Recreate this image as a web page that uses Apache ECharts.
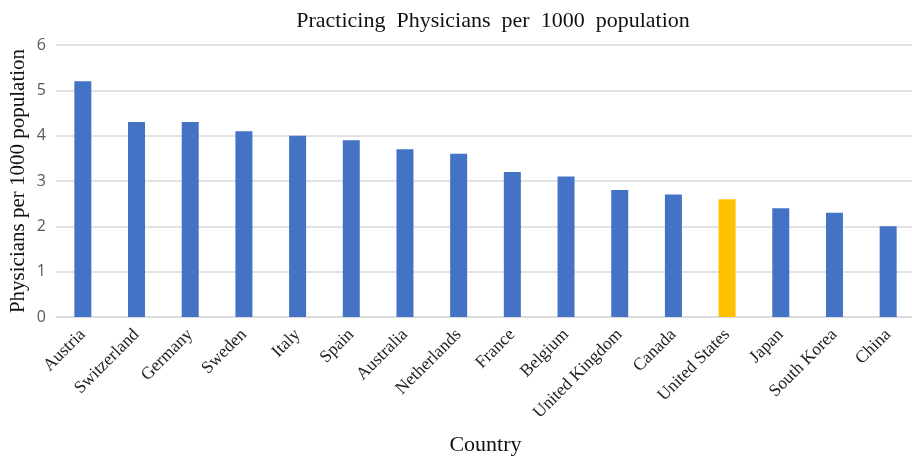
<!DOCTYPE html>
<html>
<head>
<meta charset="utf-8">
<script src="https://cdn.jsdelivr.net/npm/echarts@6/dist/echarts.min.js"></script>
<style>
  html, body { margin: 0; padding: 0; background: #fff; }
  #chart { width: 912px; height: 457px; }
</style>
</head>
<body>
<div id="chart"></div>
<script>
// Practicing physicians per 1000 population, by country
const countries = ['Austria', 'Switzerland', 'Germany', 'Sweden', 'Italy', 'Spain', 'Australia',
  'Netherlands', 'France', 'Belgium', 'United Kingdom', 'Canada', 'United States', 'Japan',
  'South Korea', 'China'];
const physicians = [5.2, 4.3, 4.3, 4.1, 4.0, 3.9, 3.7, 3.6, 3.2, 3.1, 2.8, 2.7, 2.6, 2.4, 2.3, 2.0];
const highlighted = 'United States';
const yTicks = [0, 1, 2, 3, 4, 5, 6];

const BLUE = '#4472C4';
const GOLD = '#FFC000';
const serif = '"Liberation Serif", "DejaVu Serif", serif';

const chart = echarts.init(document.getElementById('chart'));
chart.setOption({
  animation: false,
  title: {
    text: 'Practicing  Physicians  per  1000  population',
    left: 488,
    textAlign: 'center',
    top: 5,
    textStyle: { fontFamily: serif, fontSize: 22, fontWeight: 'normal', color: '#111' }
  },
  grid: { left: 56, top: 45, width: 859, height: 272, outerBoundsMode: 'none', containLabel: false },
  xAxis: {
    type: 'category',
    data: countries,
    name: 'Country',
    nameLocation: 'middle',
    nameGap: 117,
    nameMoveOverlap: false,
    nameTextStyle: { fontFamily: serif, fontSize: 22, color: '#111' },
    axisLine: { show: true, lineStyle: { color: '#d9d9d9', width: 1.5 } },
    axisTick: { show: false },
    axisLabel: {
      interval: 0,
      rotate: 45,
      margin: 15,
      fontFamily: serif,
      fontSize: 17.5,
      color: '#222'
    }
  },
  yAxis: {
    type: 'value',
    min: yTicks[0],
    max: yTicks[yTicks.length - 1],
    interval: 1,
    name: 'Physicians per 1000 population',
    nameLocation: 'middle',
    nameGap: 27,
    nameMoveOverlap: false,
    nameTextStyle: { fontFamily: serif, fontSize: 21, color: '#111' },
    axisLine: { show: false },
    axisTick: { show: false },
    axisLabel: {
      margin: 10,
      fontFamily: '"Open Sans", "Noto Sans", sans-serif',
      fontSize: 16,
      color: '#595959'
    },
    splitLine: { lineStyle: { color: '#d9d9d9', width: 1.5 } }
  },
  series: [{
    type: 'bar',
    barWidth: 17,
    data: physicians.map((v, i) => ({
      value: v,
      itemStyle: { color: countries[i] === highlighted ? GOLD : BLUE }
    }))
  }]
});
</script>
</body>
</html>
